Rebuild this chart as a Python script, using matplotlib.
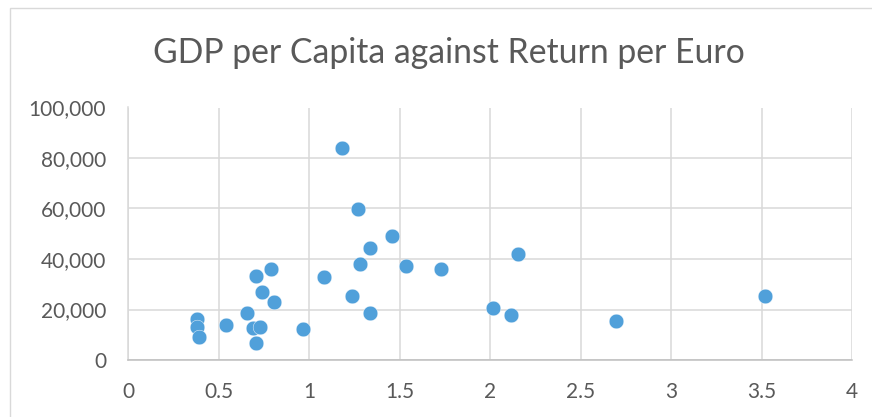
import matplotlib
matplotlib.use("Agg")
import matplotlib.pyplot as plt
from matplotlib.patches import Rectangle
from matplotlib.ticker import FuncFormatter

return_per_euro = [1.181, 1.269, 1.455, 1.337, 1.280, 1.536, 0.790, 0.704, 1.080,
                   0.739, 0.803, 1.238, 1.337, 0.656, 0.378, 0.378, 0.392, 0.541,
                   0.687, 0.728, 0.965, 0.707, 1.729, 2.155, 2.013, 2.116, 2.693, 3.516]
gdp_per_capita = [83800, 59700, 49100, 44200, 38100, 37200, 35900, 33300, 32900,
                  27100, 23000, 25200, 18600, 18500, 16100, 13100, 9100, 14000,
                  12500, 13100, 12400, 6600, 36200, 42000, 20700, 17700, 15300, 25500]

x_ticks = [0, 0.5, 1, 1.5, 2, 2.5, 3, 3.5, 4]
y_ticks = [0, 20000, 40000, 60000, 80000, 100000]
title = "GDP per Capita against Return per Euro"

plt.rcParams['font.family'] = ['Lato', 'DejaVu Sans']
text_color = '#595959'
grid_color = '#D9D9D9'

fig = plt.figure(figsize=(8.72, 4.17), dpi=100)
fig.patch.set_facecolor('white')
fig.add_artist(Rectangle((10/872, -0.1), 1.2, 1 - 8/417 + 0.1, transform=fig.transFigure,
                         fill=False, edgecolor=grid_color, linewidth=1.0))

ax = fig.add_axes([128.3/872, 1 - 360/417, (852.3-128.3)/872, (360-107.5)/417])
ax.scatter(return_per_euro, gdp_per_capita, s=112, color='#50A0DA',
           edgecolors='white', linewidths=0.3, zorder=3, clip_on=False)

ax.set_xlim(0, 4)
ax.set_ylim(0, 100000)
ax.set_xticks(x_ticks)
ax.set_yticks(y_ticks)
ax.xaxis.set_major_formatter(FuncFormatter(lambda v, p: f"{v:g}"))
ax.yaxis.set_major_formatter(FuncFormatter(lambda v, p: f"{int(v):,}"))
ax.tick_params(axis='both', length=0, labelsize=15, colors=text_color)
ax.tick_params(axis='x', pad=16)
ax.tick_params(axis='y', pad=16)
ax.grid(True, color=grid_color, linewidth=1.1, zorder=0)
ax.set_axisbelow(True)
for s in ['top', 'right']:
    ax.spines[s].set_visible(False)
ax.spines['left'].set_color(grid_color)
ax.spines['left'].set_linewidth(1.1)
ax.spines['bottom'].set_color('#BFBFBF')
ax.spines['bottom'].set_linewidth(1.1)

fig.text(449/872, 1 - 53/417, title, ha='center', va='center',
         fontsize=24.3, color=text_color)

fig.savefig('out.png', dpi=100)
